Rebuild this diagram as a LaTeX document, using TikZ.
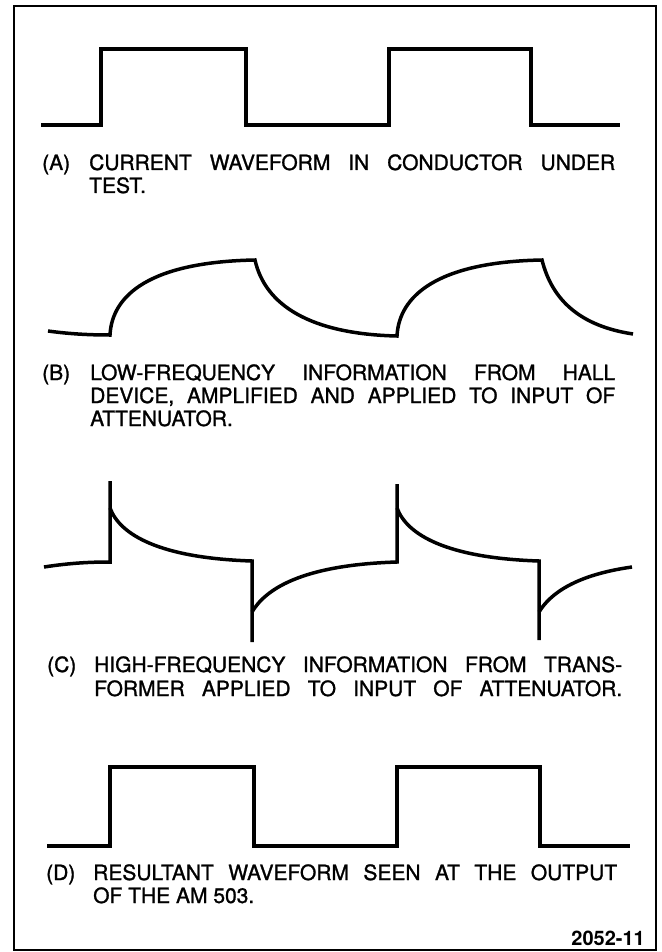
\documentclass[tikz,border=0pt]{standalone}
\usepackage{fontspec}
\setmainfont{TeX Gyre Heros}
\newfontfamily\capfont[FakeBold=1.2]{TeX Gyre Heros}
\begin{document}
\begin{tikzpicture}[x=1pt,y=-1pt,
  wave/.style={line width=3.5pt,line join=miter},
  framebox/.style={line width=2pt},
  captext/.style={anchor=base west,inner sep=0pt,font=\capfont\fontsize{21}{24}\selectfont},
  fignum/.style={anchor=base east,inner sep=0pt,font=\fontsize{20}{22}\selectfont\bfseries}]
\useasboundingbox (0,0) rectangle (661,952);
\fill[white] (0,0) rectangle (661,952);
\draw[framebox] (14,6) rectangle (656,950);

% (A) square wave
\draw[wave] (41,125) -- (101,125) -- (101,49) -- (246,49) -- (246,125) -- (389,125) -- (389,49) -- (531,49) -- (531,125) -- (620,125);

% (B) low-frequency
\draw[wave] (48,331) .. controls (70,334) and (90,335) .. (110,335)
  .. controls (112,295) and (150,262) .. (255,260)
  .. controls (265,305) and (310,334) .. (397,336)
  .. controls (399,296) and (437,262) .. (542,260)
  .. controls (552,300) and (580,326) .. (633,334);

% (C) high-frequency
\draw[wave] (44,567) .. controls (70,563) and (90,562) .. (110,562) -- (110,481);
\draw[wave] (110,508) .. controls (120,535) and (160,558) .. (252,561) -- (252,642);
\draw[wave] (252,612) .. controls (265,590) and (300,565) .. (397,562) -- (397,484);
\draw[wave] (397,508) .. controls (407,535) and (447,558) .. (539,561) -- (539,640);
\draw[wave] (539,612) .. controls (550,594) and (575,575) .. (632,567);

% (D) resultant
\draw[wave] (47,846) -- (110,846) -- (110,767) -- (254,767) -- (254,846) -- (397,846) -- (397,767) -- (540,767) -- (540,846) -- (630,846);

% captions
\node[captext] (la) at (42,170) {(A)};
\node[captext] (ta1) at (89,170) {\makebox[526pt][s]{CURRENT WAVEFORM IN CONDUCTOR UNDER}};
\node[captext] (ta2) at (89,193) {TEST.};

\node[captext] (lb) at (42,380) {(B)};
\node[captext] (tb1) at (90,380) {\makebox[525pt][s]{LOW-FREQUENCY INFORMATION FROM HALL}};
\node[captext] (tb2) at (90,403) {\makebox[525pt][s]{DEVICE, AMPLIFIED AND APPLIED TO INPUT OF}};
\node[captext] (tb3) at (90,426) {ATTENUATOR.};

\node[captext] (lc) at (47,672) {(C)};
\node[captext] (tc1) at (94,672) {\makebox[528pt][s]{HIGH-FREQUENCY INFORMATION FROM TRANS-}};
\node[captext] (tc2) at (94,696) {\makebox[528pt][s]{FORMER APPLIED TO INPUT OF ATTENUATOR.}};

\node[captext] (ld) at (46,880) {(D)};
\node[captext] (td1) at (93,880) {\makebox[524pt][s]{RESULTANT WAVEFORM SEEN AT THE OUTPUT}};
\node[captext] (td2) at (93,903) {OF THE AM 503.};

\node[fignum] (fn) at (645,945) {2052-11};
\end{tikzpicture}
\end{document}
